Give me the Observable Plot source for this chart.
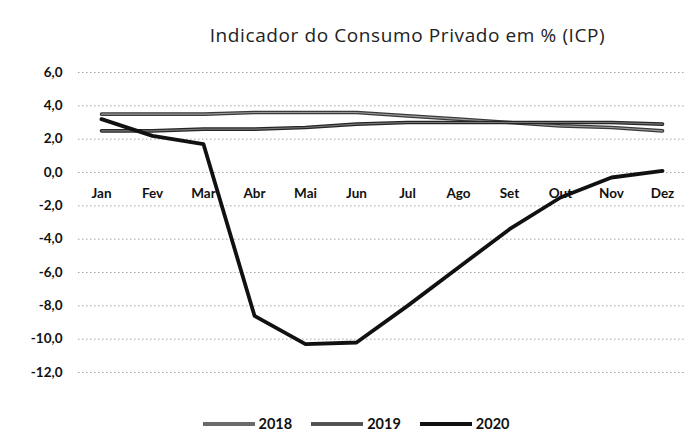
<!DOCTYPE html>
<html>
<head>
<meta charset="utf-8">
<script src="https://cdn.jsdelivr.net/npm/d3@7"></script>
<script src="https://cdn.jsdelivr.net/npm/@observablehq/plot@0.6"></script>
<style>
  body { margin: 0; background: #fff; width: 685px; height: 439px; overflow: hidden; }
  #title { height: 55px; box-sizing: border-box; padding-left: 130px; padding-top: 24px; text-align: center;
           font-family: "Open Sans", sans-serif; font-size: 19px; color: #222; letter-spacing: 0.6px; line-height: 22px; }
  #legend { margin-top: 22px; display: flex; justify-content: center; gap: 19px; padding-left: 27px;
            font-family: Lato, sans-serif; font-weight: bold; font-size: 14.5px; color: #111; line-height: 20px; }
  .item { display: flex; align-items: center; gap: 4px; }
  svg text { font-family: Lato, sans-serif; }
</style>
</head>
<body>
<div id="title">Indicador do Consumo Privado em % (ICP)</div>
<div id="chart"></div>
<div id="legend"></div>
<script>
const months = ["Jan","Fev","Mar","Abr","Mai","Jun","Jul","Ago","Set","Out","Nov","Dez"];
const years = ["2018","2019","2020"];
const icp2018 = [3.5, 3.5, 3.5, 3.6, 3.6, 3.6, 3.4, 3.2, 3.0, 2.8, 2.7, 2.5];
const icp2019 = [2.5, 2.5, 2.6, 2.6, 2.7, 2.9, 3.0, 3.0, 3.0, 3.0, 3.0, 2.9];
const icp2020 = [3.2, 2.2, 1.7, -8.6, -10.3, -10.2, -8.0, -5.7, -3.4, -1.5, -0.3, 0.1];
const yTicks = [6, 4, 2, 0, -2, -4, -6, -8, -10, -12];

const seriesValues = {"2018": icp2018, "2019": icp2019, "2020": icp2020};
const rows = years.flatMap(y => months.map((m, i) => ({month: m, year: y, value: seriesValues[y][i]})));
const fmt = d => d.toFixed(1).replace(".", ",");

const styles = {
  "2018": {outer: "#3a3a3a", outerW: 3.6, inner: "#9a9a9a", innerW: 1.2},
  "2019": {outer: "#262626", outerW: 3.6, inner: "#777", innerW: 1.2},
  "2020": {outer: "#111", outerW: 3.8, inner: null, innerW: 0}
};

const lineMarks = [];
for (const y of years) {
  const d = rows.filter(r => r.year === y);
  const s = styles[y];
  lineMarks.push(Plot.lineY(d, {x: "month", y: "value", stroke: s.outer, strokeWidth: s.outerW, strokeLinejoin: "round"}));
  if (s.inner) lineMarks.push(Plot.lineY(d, {x: "month", y: "value", stroke: s.inner, strokeWidth: s.innerW, strokeLinejoin: "round"}));
}

const chart = Plot.plot({
  width: 685,
  height: 337,
  marginTop: 17,
  marginBottom: 20,
  marginLeft: 78,
  marginRight: 0,
  x: {type: "point", domain: months, padding: 0.45, axis: null},
  y: {domain: [-12, 6], axis: null},
  marks: [
    Plot.gridY(yTicks, {stroke: "#666", strokeOpacity: 0.75, strokeDasharray: "1.5 2.5", strokeWidth: 0.8}),
    Plot.axisY(yTicks, {label: null, tickSize: 0, tickPadding: 16, tickFormat: fmt, fontSize: 13.5, fontWeight: "bold", fill: "#111"}),
    Plot.text(months, {x: d => d, y: () => 0, dy: 21, fontSize: 13.5, fontWeight: "bold", fill: "#111"}),
    ...lineMarks
  ]
});
document.getElementById("chart").appendChild(chart);

const legend = document.getElementById("legend");
for (const y of years) {
  const s = styles[y];
  const item = document.createElement("div");
  item.className = "item";
  const svgNS = "http://www.w3.org/2000/svg";
  const sw = document.createElementNS(svgNS, "svg");
  sw.setAttribute("width", 52); sw.setAttribute("height", 8);
  const l1 = document.createElementNS(svgNS, "line");
  l1.setAttribute("x1", 0); l1.setAttribute("x2", 52); l1.setAttribute("y1", 4); l1.setAttribute("y2", 4);
  l1.setAttribute("stroke", s.outer); l1.setAttribute("stroke-width", s.outerW);
  sw.appendChild(l1);
  if (s.inner) {
    const l2 = l1.cloneNode();
    l2.setAttribute("stroke", s.inner); l2.setAttribute("stroke-width", s.innerW);
    sw.appendChild(l2);
  }
  item.appendChild(sw);
  const t = document.createElement("span");
  t.textContent = y;
  item.appendChild(t);
  legend.appendChild(item);
}
</script>
</body>
</html>
